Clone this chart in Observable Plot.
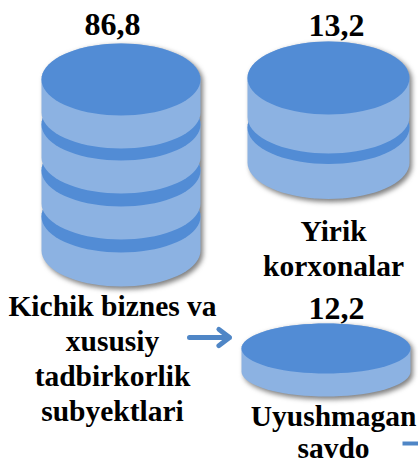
<!DOCTYPE html>
<html>
<head>
<meta charset="utf-8">
<script src="https://cdn.jsdelivr.net/npm/d3@7"></script>
<script src="https://cdn.jsdelivr.net/npm/@observablehq/plot@0.6"></script>
<style>html,body{margin:0;padding:0;background:#fff}svg{display:block}</style>
</head>
<body>
<div id="chart"></div>
<script>
// Values and labels
const values = [86.8, 13.2, 12.2];
const categories = [
  "Kichik biznes va\nxususiy\ntadbirkorlik\nsubyektlari",
  "Yirik\nkorxonalar",
  "Uyushmagan\nsavdo"
];

// Layout of the infographic (separate from the data)
const W = 418, H = 463;
const DARK = "#528cd5", LIGHT = "#8cb2e2", ARROW = "#4f86c6";
const cylinders = [
  {cx: 120.5, rx: 79.5, ry: 36, tiers: [{c: 79, h: 33}, {c: 124, h: 33}, {c: 170, h: 33}, {c: 216, h: 34}]},
  {cx: 328, rx: 81, ry: 36.5, tiers: [{c: 77.5, h: 39}, {c: 127, h: 35}]},
  {cx: 325.5, rx: 84.5, ry: 25, tiers: [{c: 348, h: 23}]}
];
const valueAnchors = [{x: 112, y: 24}, {x: 336, y: 25}, {x: 336, y: 308.5}];
const labelAnchors = [{x: 112, y: 356.5}, {x: 333, y: 247}, {x: 333, y: 431}];
const labelLineHeights = [1.186, 1.186, 1.1];
const arrows = [{x1: 189, y1: 337, x2: 229, y2: 337}];
const stub = [{x: 402, y: 443}, {x: 418, y: 443}];

// Shape helpers: outlines sampled then passed through the x/y scales
const angles = d3.range(0, 361, 5).map(d => d * Math.PI / 180);
const ellipse = (cx, cy, rx, ry) => angles.map(a => ({x: cx + rx * Math.cos(a), y: cy + ry * Math.sin(a)}));
const body = (cx, c, rx, ry, h) => [
  ...angles.filter(a => a <= Math.PI + 1e-9).map(a => ({x: cx + rx * Math.cos(a), y: c + h + ry * Math.sin(a)})),
  ...angles.filter(a => a >= Math.PI - 1e-9).map(a => ({x: cx + rx * Math.cos(a), y: c + ry * Math.sin(a)}))
];
const shape = (pts, fill, extra = {}) => Plot.line(pts, {x: "x", y: "y", fill, stroke: "none", curve: "linear", ...extra});

const marks = [];
for (const cyl of cylinders) {
  const {cx, rx, ry, tiers} = cyl;
  const last = tiers[tiers.length - 1];
  // soft shadow of the entire silhouette
  marks.push(shape(body(cx + 2.5, tiers[0].c + 2, rx, ry, last.c + last.h - tiers[0].c + 1), "#555",
    {imageFilter: "blur(2.5px)", fillOpacity: 0.75}));
  // draw tiers bottom-up, so upper ones cover the lower ones
  [...tiers].reverse().forEach(t => {
    marks.push(shape(body(cx, t.c, rx, ry, t.h), LIGHT));
    marks.push(shape(ellipse(cx, t.c, rx, ry), DARK));
  });
}
marks.push(Plot.arrow(arrows, {x1: "x1", y1: "y1", x2: "x2", y2: "y2", stroke: ARROW, strokeWidth: 5, bend: 0, headLength: 11, headAngle: 75}));
marks.push(Plot.line(stub, {x: "x", y: "y", stroke: ARROW, strokeWidth: 4, strokeLinecap: "butt"}));

const font = {fontFamily: "'Liberation Serif', serif", fontWeight: 700, fill: "#000", textAnchor: "middle"};
marks.push(Plot.text(values, {
  x: (d, i) => valueAnchors[i].x, y: (d, i) => valueAnchors[i].y,
  text: d => d.toFixed(1).replace(".", ","), fontSize: 32, ...font
}));
categories.forEach((label, i) => {
  marks.push(Plot.text([label], {
    x: () => labelAnchors[i].x, y: () => labelAnchors[i].y,
    text: d => d, fontSize: 29.5, lineHeight: labelLineHeights[i], lineAnchor: "middle", ...font
  }));
});

const plot = Plot.plot({
  width: W, height: H,
  margin: 0, marginTop: 0, marginRight: 0, marginBottom: 0, marginLeft: 0,
  x: {domain: [0, W], range: [0, W], axis: null},
  y: {domain: [0, H], range: [0, H], axis: null},
  marks
});
document.getElementById("chart").append(plot);
</script>
</body>
</html>
